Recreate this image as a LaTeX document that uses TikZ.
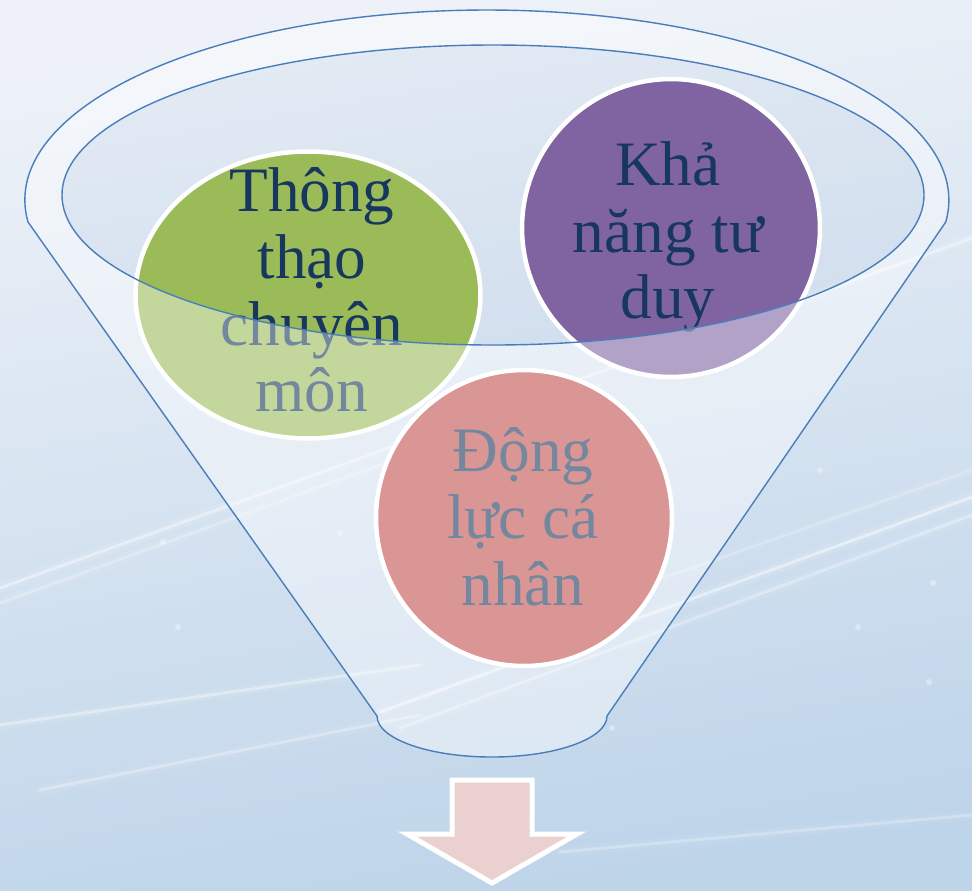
\documentclass[tikz,border=0pt]{standalone}
\usepackage{fontspec}
\setmainfont{Liberation Serif}
\usetikzlibrary{shapes.geometric}

\definecolor{rimblue}{HTML}{4A7EBB}
\definecolor{navy}{HTML}{17375E}
\definecolor{leafgreen}{HTML}{9BBB59}
\definecolor{plum}{HTML}{8064A2}
\definecolor{brick}{HTML}{C0504D}
\definecolor{skytop}{HTML}{EEF2F8}
\definecolor{skybot}{HTML}{BED4E9}
\definecolor{arrowpink}{HTML}{EBD0D0}

\newcommand\bubblefont{\fontsize{36}{38}\selectfont\setlength{\lineskiplimit}{-30pt}\relax}

\begin{document}
\begin{tikzpicture}[
  x=0.02cm, y=-0.02cm,
  bubble/.style={draw=white, line width=0.09cm, inner sep=0pt},
  word/.style={text=navy, align=center, inner sep=0pt, font={\bubblefont}},
  rim/.style={draw=rimblue, line width=0.8pt},
  streak/.style={white, line cap=round}
]
\useasboundingbox (0,0) rectangle (972,890);

% Sky background
\shade[top color=skytop, bottom color=skybot, shading angle=10] (0,0) rectangle (972,890);
\foreach \xa/\ya/\xb/\yb/\op in {0/588/972/238/0.4, 0/603/600/385/0.25, 0/725/420/665/0.35,
    40/790/420/715/0.3, 380/712/972/497/0.45, 400/728/972/515/0.3, 560/852/972/815/0.25,
    600/600/972/470/0.2}
  {\draw[streak, line width=0.2cm, opacity=0.25*\op] (\xa,\ya) -- (\xb,\yb);
   \draw[streak, line width=0.06cm, opacity=\op] (\xa,\ya) -- (\xb,\yb);}
\foreach \sx/\sy in {163/542, 178/627, 340/533, 933/583, 858/627, 929/682, 612/728, 820/470}
  \fill[white, opacity=0.35] (\sx,\sy) circle[radius=3];

% Mouth of the funnel
\fill[rimblue, opacity=0.06] (493,195) ellipse[x radius=431, y radius=150];

% Bubbles
\node[bubble, ellipse, fill=leafgreen, minimum width=6.9cm, minimum height=5.74cm] (green) at (308,295) {};
\node[bubble, circle, fill=plum, minimum size=5.96cm] (purple) at (671,228) {};
\node[bubble, circle, fill=brick, minimum size=5.92cm] (pink) at (524,518) {};

\node[word] (green-text) at (312,290) {Thông\\thạo\\chuyên\\môn};
\node[word] (purple-text) at (668,237) {Khả\\năng tư\\duy};
\node[word] (pink-text) at (523,517) {Động\\lực cá\\nhân};

% Funnel body
\draw[rim, fill=white, fill opacity=0.4, even odd rule]
  (377,716) -- (28,222) arc[start angle=173.35, end angle=366.65, x radius=462, y radius=190]
  -- (607,716) arc[start angle=0, end angle=180, x radius=115, y radius=41] -- cycle
  (493,195) ellipse[x radius=431, y radius=150];

% Arrow below
\draw[white, line width=0.1cm, fill=arrowpink, line join=miter]
  (452,780) -- (532,780) -- (532,834) -- (577,834) -- (492,883) -- (407,834) -- (452,834) -- cycle;

\end{tikzpicture}
\end{document}
